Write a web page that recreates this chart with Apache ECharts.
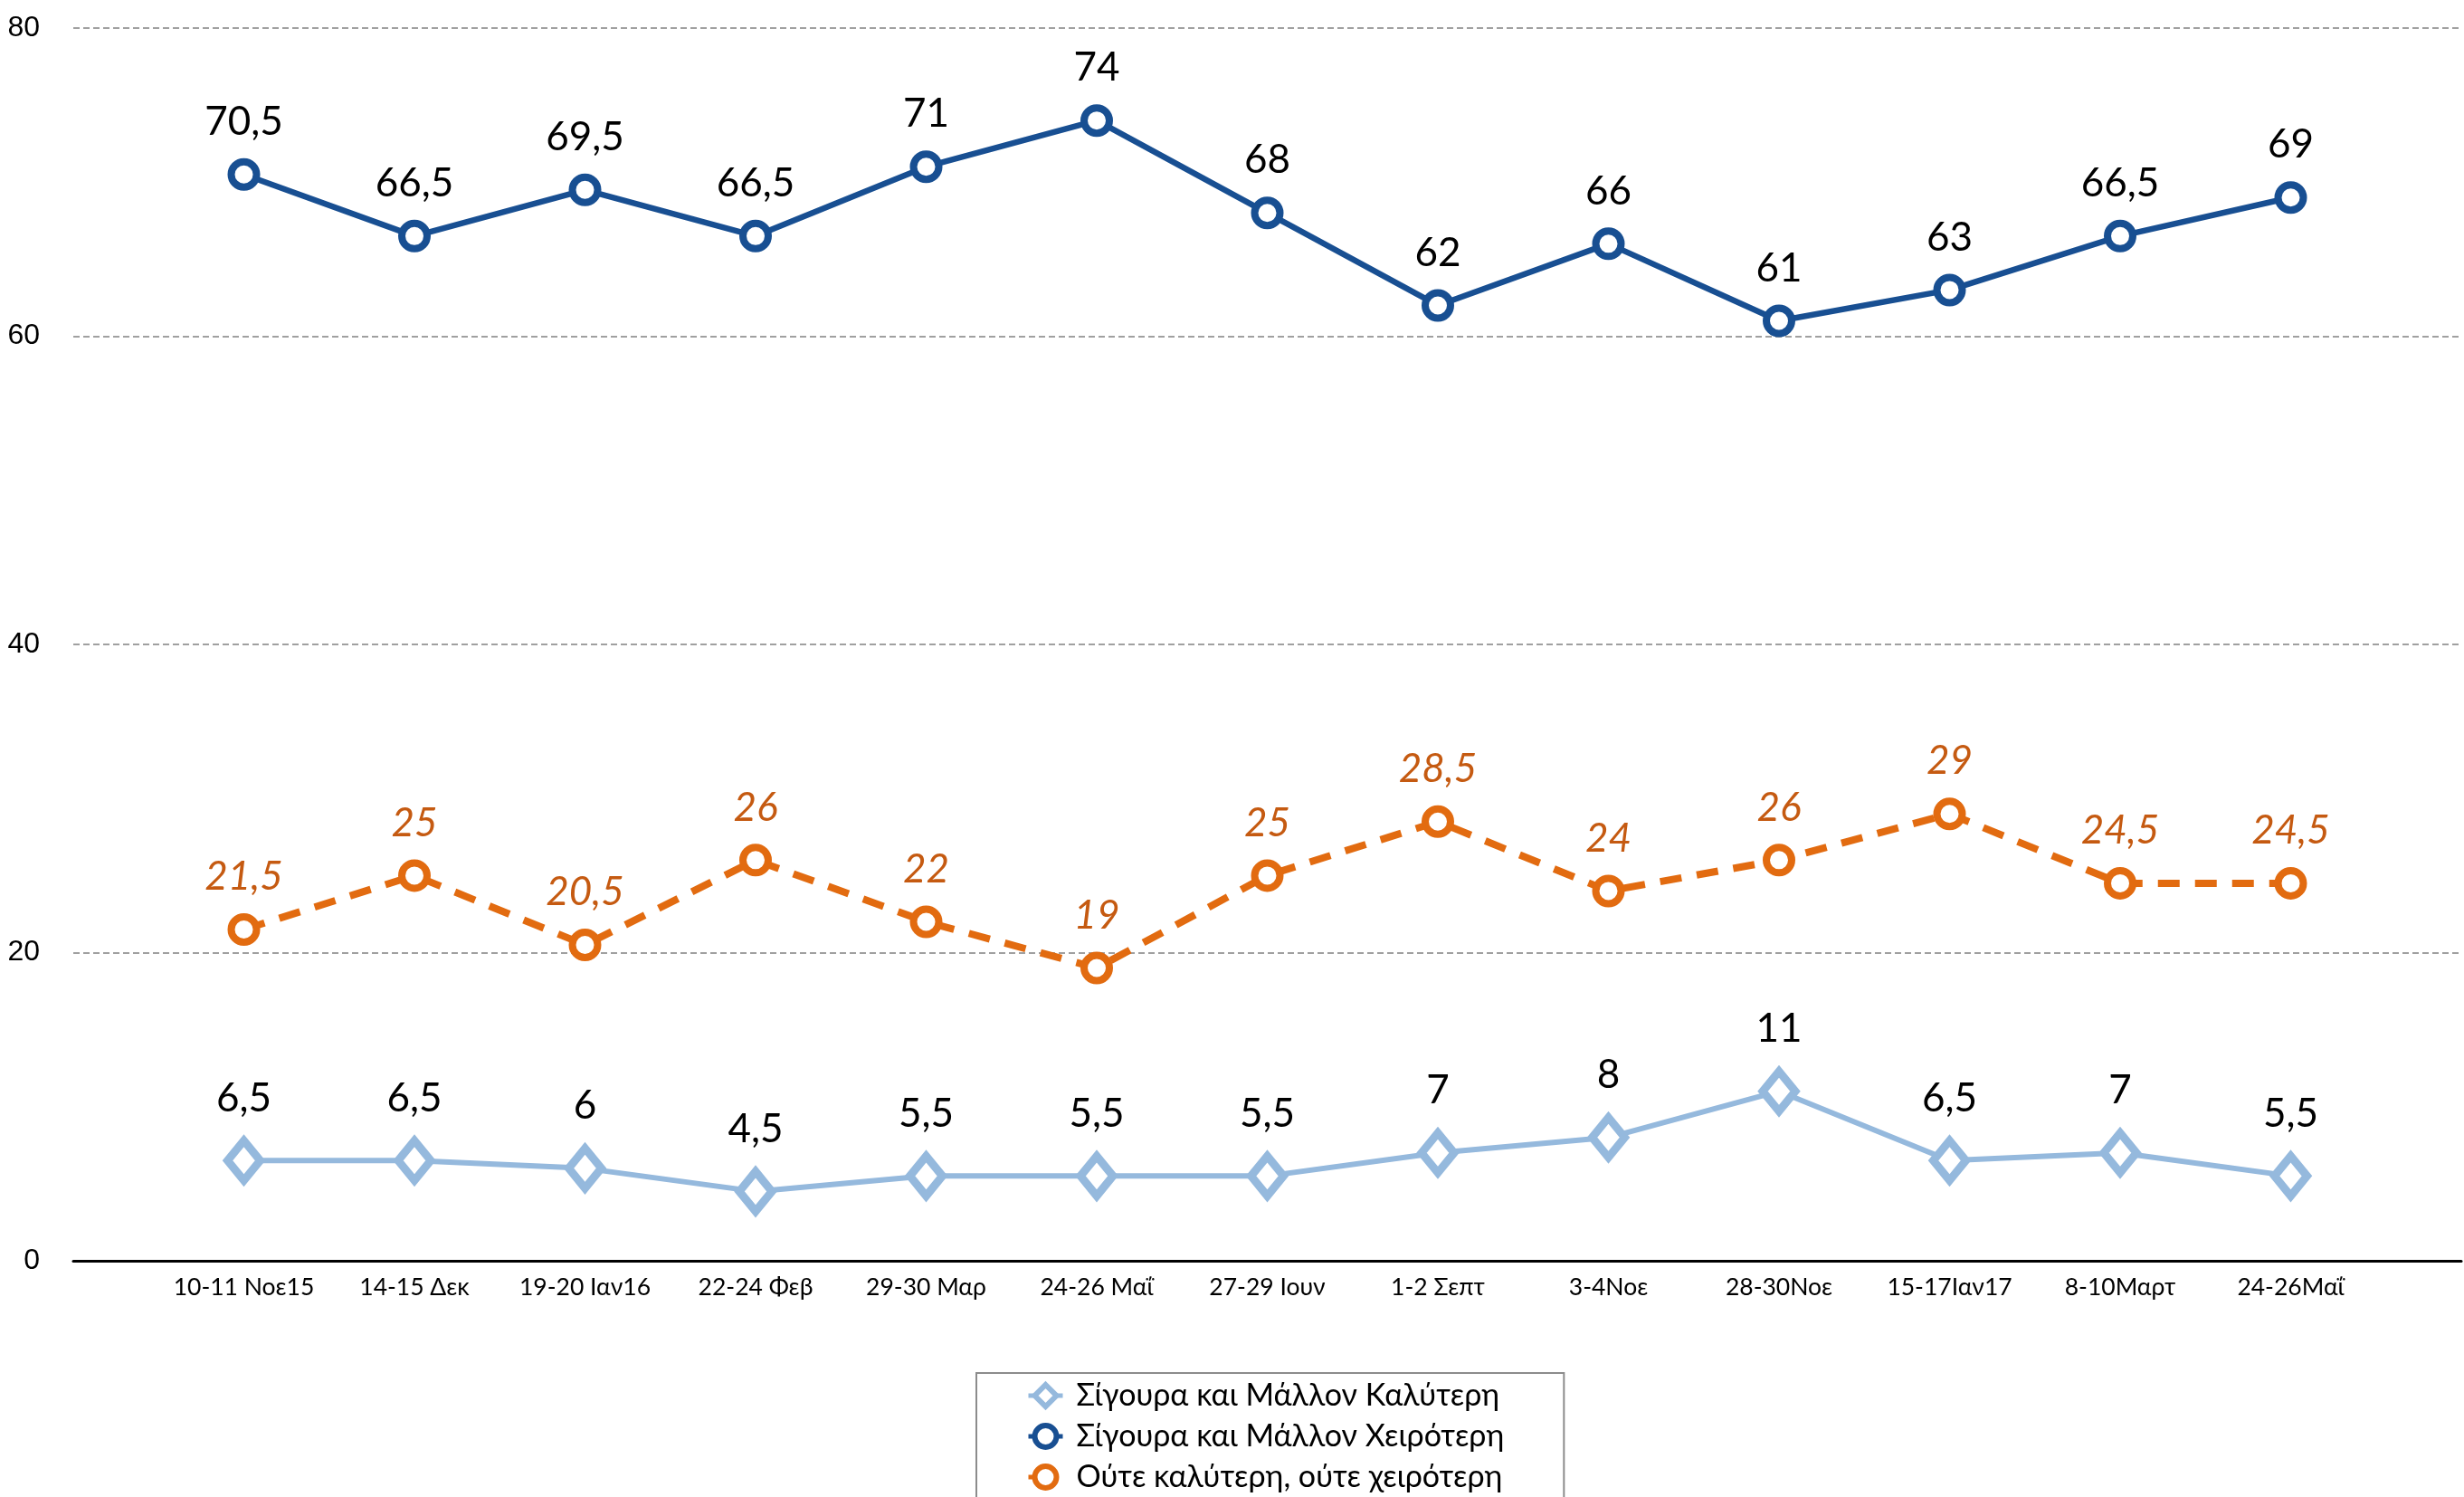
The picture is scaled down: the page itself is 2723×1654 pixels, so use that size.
<!DOCTYPE html>
<html>
<head>
	<meta charset="UTF-8" />
	<title>Σίγουρα και Μάλλον</title>
	<script src="https://cdn.jsdelivr.net/npm/echarts@6/dist/echarts.min.js"></script>
	<style>
		html, body { margin: 0; padding: 0; background: #fff; }
		#chart { width: 2723px; height: 1654px; }
	</style>
</head>
<body>
	<div id="chart"></div>
	<script type="text/javascript">
		// κατηγορίες (ημερομηνίες δημοσκοπήσεων)
		const categories = ['10-11 Νοε15', '14-15 Δεκ', '19-20 Ιαν16', '22-24 Φεβ', '29-30 Μαρ', '24-26 Μαΐ',
			'27-29 Ιουν', '1-2 Σεπτ', '3-4Νοε', '28-30Νοε', '15-17Ιαν17', '8-10Μαρτ', '24-26Μαΐ'];
		const better = [6.5, 6.5, 6, 4.5, 5.5, 5.5, 5.5, 7, 8, 11, 6.5, 7, 5.5];
		const worse = [70.5, 66.5, 69.5, 66.5, 71, 74, 68, 62, 66, 61, 63, 66.5, 69];
		const neither = [21.5, 25, 20.5, 26, 22, 19, 25, 28.5, 24, 26, 29, 24.5, 24.5];
		const yTicks = [0, 20, 40, 60, 80];

		const names = ['Σίγουρα και Μάλλον Καλύτερη', 'Σίγουρα και Μάλλον Χειρότερη', 'Ούτε καλύτερη, ούτε χειρότερη'];

		const pts = arr => arr.map((v, i) => [i, v]);
		const comma = p => String(p.value[1]).replace('.', ',');
		const font = 'Lato, "Noto Sans", sans-serif';

		const chart = echarts.init(document.getElementById('chart'));
		chart.setOption({
			animation: false,
			backgroundColor: '#fff',
			grid: { left: 81, right: 0, top: 31, bottom: 261 },
			xAxis: {
				type: 'value',
				min: -1, max: 13, interval: 1,
				axisLine: { show: true, lineStyle: { color: '#000', width: 3 } },
				axisTick: { show: false },
				splitLine: { show: false },
				axisLabel: {
					margin: 16, fontSize: 26.5, color: '#000', fontFamily: font,
					formatter: v => categories[v] || ''
				}
			},
			yAxis: {
				type: 'value',
				min: yTicks[0], max: yTicks[yTicks.length - 1], interval: 20,
				axisLine: { show: false },
				axisTick: { show: false },
				axisLabel: { margin: 37, fontSize: 32, color: '#000', fontFamily: 'Liberation Sans, Arial, sans-serif' },
				splitLine: { lineStyle: { color: '#a0a0a0', width: 2, type: [7, 4] } }
			},
			legend: {
				orient: 'vertical',
				left: 1079, top: 1517,
				height: 400,
				padding: [7, 66, 60, 55],
				borderColor: '#8c8c8c', borderWidth: 2,
				itemWidth: 38, itemHeight: 30, itemGap: 9,
				itemStyle: { borderWidth: 6 },
				lineStyle: { width: 5 },
				data: names,
				textStyle: { fontSize: 34, color: '#000', fontFamily: font, lineHeight: 36, padding: [0, 0, 0, 10] }
			},
			series: [
				{
					name: names[1], type: 'line', data: pts(worse), z: 3,
					symbol: 'circle', symbolSize: 28,
					lineStyle: { color: '#184f92', width: 6.5 },
					itemStyle: { color: '#fff', borderColor: '#184f92', borderWidth: 8 },
					label: { show: true, position: 'top', distance: 18, fontSize: 44, color: '#000', fontFamily: font, formatter: comma }
				},
				{
					name: names[2], type: 'line', data: pts(neither), z: 3,
					symbol: 'circle', symbolSize: 28,
					lineStyle: { color: '#e26b10', width: 8, type: [24, 17] },
					itemStyle: { color: '#fff', borderColor: '#e26b10', borderWidth: 8 },
					label: { show: true, position: 'top', distance: 18, fontSize: 44, fontStyle: 'italic', color: '#c55a11', fontFamily: font, formatter: comma }
				},
				{
					name: names[0], type: 'line', data: pts(better), z: 3,
					symbol: 'diamond', symbolSize: [36, 44],
					lineStyle: { color: '#95b9dd', width: 6 },
					itemStyle: { color: '#fff', borderColor: '#95b9dd', borderWidth: 9 },
					label: { show: true, position: 'top', distance: 20, fontSize: 44, color: '#000', fontFamily: font, formatter: comma }
				}
			]
		});
	</script>
</body>
</html>
